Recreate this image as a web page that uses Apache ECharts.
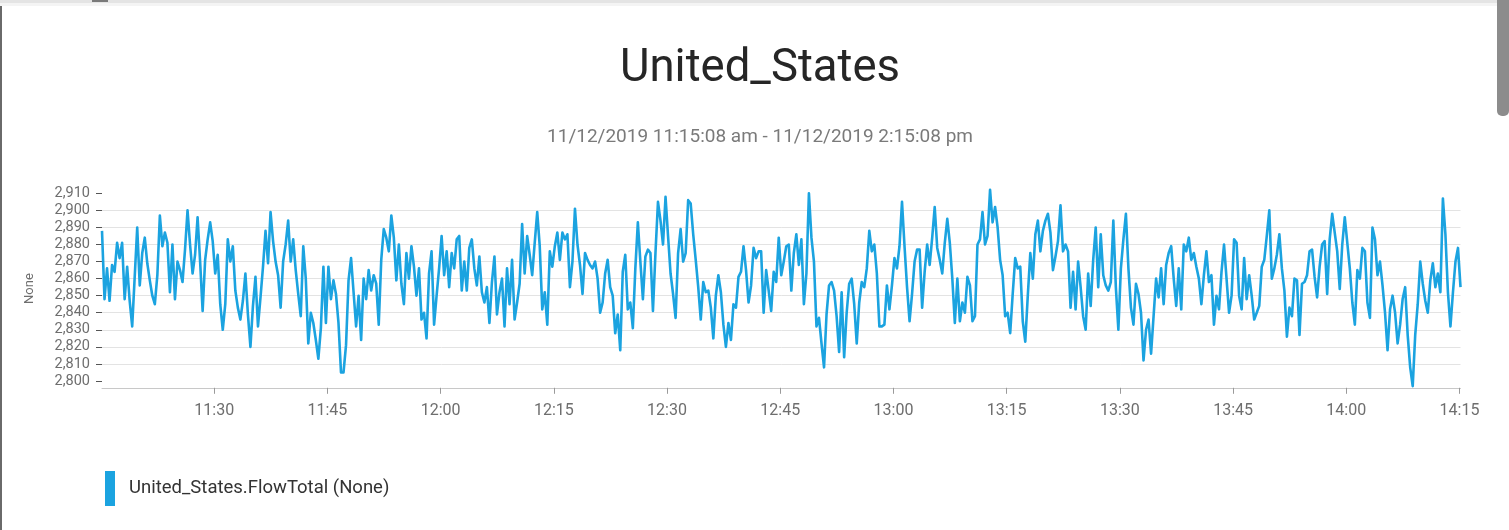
<!DOCTYPE html>
<html>
<head>
<meta charset="utf-8">
<title>United_States</title>
<script src="https://cdn.jsdelivr.net/npm/echarts@6/dist/echarts.min.js"></script>
<style>
  html, body { margin: 0; padding: 0; background: #ffffff; }
  #chart { width: 1509px; height: 530px; }
</style>
</head>
<body>
<div id="chart"></div>
<script>
// Sampling: one reading every 20 seconds from 11:15:08 to 14:15:08
const startTime = Date.UTC(2019, 10, 12, 11, 15, 8);
const endTime = Date.UTC(2019, 10, 12, 14, 15, 8);
const stepSeconds = 20;

// United_States.FlowTotal readings
const flowTotal = [
  2888, 2848, 2866, 2847, 2868, 2864, 2881, 2872, 2881, 2848, 2867, 2847, 2832, 2861, 2890, 2856, 2875, 2884, 2869, 2859,
  2850, 2845, 2862, 2897, 2879, 2887, 2881, 2852, 2880, 2848, 2870, 2865, 2858, 2877, 2900, 2880, 2863, 2874, 2896, 2870,
  2841, 2871, 2883, 2893, 2882, 2863, 2874, 2845, 2830,
  2845, 2883, 2870, 2879, 2853, 2843, 2836, 2847, 2863, 2839, 2820, 2844, 2861, 2832, 2849, 2867, 2888, 2869, 2899, 2882,
  2870, 2862, 2843, 2870, 2880, 2894, 2870, 2883, 2865, 2851, 2838, 2879, 2860, 2822, 2840, 2834, 2824, 2813, 2831, 2867,
  2834, 2867, 2848, 2859, 2851, 2834, 2805, 2805, 2821, 2859,
  2872, 2852, 2832, 2850, 2824, 2860, 2848, 2865, 2853, 2862, 2857, 2833, 2871, 2889, 2884, 2876, 2897, 2884, 2859, 2880,
  2857, 2845, 2875, 2860, 2879, 2867, 2850, 2866, 2836, 2840, 2825, 2863, 2876, 2833, 2850, 2866, 2885, 2862, 2876, 2855,
  2875, 2866, 2883, 2885, 2853, 2870, 2853, 2878, 2883, 2866,
  2856, 2873, 2852, 2846, 2855, 2834, 2858, 2873, 2839, 2852, 2860, 2832, 2866, 2845, 2871, 2836, 2846, 2857, 2892, 2863,
  2885, 2874, 2862, 2881, 2899, 2879, 2842, 2852, 2833, 2876, 2867, 2879, 2887, 2871, 2887, 2883, 2886, 2855, 2870, 2901,
  2880, 2868, 2851, 2875, 2871, 2868, 2866, 2870, 2860, 2840,
  2846, 2863, 2871, 2855, 2850, 2828, 2839, 2818, 2864, 2874, 2842, 2846, 2831, 2866, 2893, 2870, 2848, 2873, 2877, 2875,
  2841, 2875, 2905, 2894, 2880, 2908, 2885, 2863, 2851, 2837, 2875, 2889, 2870, 2875, 2906, 2904, 2886, 2871, 2855, 2836,
  2858, 2852, 2853, 2843, 2825, 2850, 2862, 2852, 2833,
  2820, 2834, 2824, 2845, 2843, 2861, 2864, 2879, 2865, 2846, 2856, 2878, 2872, 2876, 2876, 2840, 2865, 2853, 2841, 2864,
  2858, 2884, 2862, 2870, 2879, 2880, 2853, 2875, 2886, 2868, 2883, 2845, 2863, 2910, 2884, 2870, 2832, 2837, 2822, 2808,
  2839, 2856, 2858, 2853, 2838, 2817, 2852, 2814, 2840, 2857,
  2860, 2845, 2822, 2846, 2858, 2855, 2866, 2888, 2876, 2880, 2863, 2832, 2832, 2833, 2856, 2842, 2856, 2872, 2866, 2879,
  2905, 2879, 2855, 2835, 2851, 2870, 2877, 2877, 2843, 2864, 2880, 2868, 2884, 2902, 2878, 2871, 2863, 2881, 2895, 2881,
  2860, 2834, 2860, 2835, 2846, 2840, 2861, 2856, 2835,
  2838, 2880, 2883, 2899, 2880, 2885, 2912, 2893, 2902, 2890, 2871, 2862, 2838, 2840, 2828, 2851, 2872, 2866, 2867, 2835,
  2823, 2850, 2875, 2860, 2886, 2894, 2876, 2888, 2894, 2898, 2887, 2865, 2873, 2882, 2903, 2876, 2880, 2876, 2843, 2864,
  2842, 2870, 2855, 2838, 2830, 2863, 2844, 2871, 2890, 2855,
  2886, 2862, 2856, 2853, 2858, 2894, 2855, 2830, 2866, 2883, 2898, 2866, 2843, 2833, 2857, 2851, 2840, 2812, 2830, 2836,
  2816, 2838, 2860, 2849, 2866, 2845, 2868, 2875, 2879, 2860, 2844, 2866, 2842, 2880, 2876, 2884, 2871, 2875, 2867, 2860,
  2845, 2862, 2876, 2858, 2862, 2833, 2850, 2842, 2864, 2880,
  2860, 2840, 2850, 2883, 2881, 2850, 2842, 2872, 2848, 2862, 2850, 2836, 2840, 2844, 2867, 2871, 2885, 2900, 2860, 2866,
  2874, 2886, 2866, 2853, 2826, 2843, 2838, 2860, 2859, 2827, 2857, 2858, 2862, 2876, 2877, 2861, 2849, 2867, 2880, 2882,
  2851, 2883, 2898, 2887, 2876, 2854, 2880, 2896, 2881, 2866,
  2846, 2833, 2865, 2860, 2878, 2876, 2846, 2837, 2890, 2883, 2862, 2870, 2856, 2840, 2818, 2842, 2850, 2840, 2822, 2833,
  2848, 2855, 2827, 2808, 2797, 2827, 2845, 2870, 2857, 2847, 2840, 2859, 2869, 2855, 2863, 2852, 2907, 2886, 2852, 2832,
  2852, 2870, 2878, 2855
];

// Axis ticks
const timeTickLabels = ['11:30', '11:45', '12:00', '12:15', '12:30', '12:45', '13:00', '13:15', '13:30', '13:45', '14:00', '14:15'];
const valueTicks = [2800, 2810, 2820, 2830, 2840, 2850, 2860, 2870, 2880, 2890, 2900, 2910];
const valueMin = 2796;
const valueMax = 2912.3;

const seriesName = 'United_States.FlowTotal (None)';
const titleText = 'United_States';
const subtitleText = '11/12/2019 11:15:08 am - 11/12/2019 2:15:08 pm';
const yAxisName = 'None';

const lineData = flowTotal.map((v, i) => [startTime + i * stepSeconds * 1000, v]);
const timeTickValues = timeTickLabels.map(t => {
  const [h, m] = t.split(':').map(Number);
  return Date.UTC(2019, 10, 12, h, m, 0);
});

const pad2 = n => (n < 10 ? '0' : '') + n;
const fmtTime = v => {
  const d = new Date(v);
  return pad2(d.getUTCHours()) + ':' + pad2(d.getUTCMinutes());
};
const fmtNumber = v => Math.round(v).toLocaleString('en-US');

const chart = echarts.init(document.getElementById('chart'), null, { renderer: 'canvas' });

chart.setOption({
  backgroundColor: '#ffffff',
  animation: false,
  textStyle: { fontFamily: 'Roboto, "Noto Sans", sans-serif' },
  legend: {
    left: 100,
    top: 466,
    icon: 'rect',
    itemWidth: 10,
    itemHeight: 35,
    data: [seriesName],
    textStyle: { fontSize: 18.5, color: '#333333', fontFamily: 'Roboto', padding: [0, 0, 0, 9] }
  },
  grid: {
    left: 102,
    right: 48.5,
    top: 189.4,
    height: 198.4,
    containLabel: false
  },
  xAxis: {
    type: 'value',
    min: startTime,
    max: endTime,
    axisLine: { show: true, lineStyle: { color: '#c8c8c8', width: 1 } },
    axisTick: { show: true, length: 6, customValues: timeTickValues, lineStyle: { color: '#9a9a9a' } },
    axisLabel: {
      customValues: timeTickValues,
      formatter: fmtTime,
      color: '#6e6e6e',
      fontSize: 16,
      margin: 15,
      fontFamily: 'Roboto'
    },
    splitLine: { show: false }
  },
  yAxis: {
    type: 'value',
    min: valueMin,
    max: valueMax,
    splitNumber: 12,
    name: yAxisName,
    nameLocation: 'middle',
    nameGap: 66,
    nameRotate: 90,
    nameTextStyle: { fontSize: 13, color: '#6e6e6e', fontFamily: 'Roboto' },
    axisLine: { show: false },
    axisTick: { show: true, inside: false, length: 6, customValues: valueTicks, lineStyle: { color: '#555555' } },
    axisLabel: {
      customValues: valueTicks,
      formatter: fmtNumber,
      color: '#6e6e6e',
      fontSize: 14.5,
      margin: 12,
      fontFamily: 'Roboto'
    },
    splitLine: { show: true, showMinLine: false, showMaxLine: false, lineStyle: { color: '#e3e3e3', width: 1 } }
  },
  series: [
    {
      name: seriesName,
      type: 'line',
      data: lineData,
      showSymbol: false,
      symbol: 'none',
      color: '#1ba3e0',
      lineStyle: { width: 2.6, color: '#1ba3e0', join: 'round' },
      emphasis: { disabled: true }
    }
  ],
  graphic: [
    // heading and time range
    {
      type: 'text', x: 760, y: 70, silent: true,
      style: { text: titleText, align: 'center', verticalAlign: 'middle', fontSize: 45.5, fontFamily: 'Roboto', fill: '#262626' }
    },
    {
      type: 'text', x: 760, y: 137, silent: true,
      style: { text: subtitleText, align: 'center', verticalAlign: 'middle', fontSize: 19, fontFamily: 'Roboto', fill: '#7a7a7a' }
    },
    // page frame: left border, top bar, scrollbar
    { type: 'rect', left: 0, top: 0, shape: { width: 2, height: 530 }, style: { fill: '#6a6a6a' }, silent: true },
    { type: 'rect', left: 0, top: 0, shape: { width: 1497, height: 3 }, style: { fill: '#e4e4e4' }, silent: true },
    { type: 'rect', left: 0, top: 3, shape: { width: 1497, height: 3 }, style: { fill: '#f4f4f4' }, silent: true },
    { type: 'rect', left: 92, top: 0, shape: { width: 16, height: 2 }, style: { fill: '#7a7a7a' }, silent: true },
    { type: 'rect', left: 1497, top: 0, shape: { width: 12, height: 116, r: [0, 0, 5, 5] }, style: { fill: '#8c8c8c' }, silent: true }
  ]
});
</script>
</body>
</html>
